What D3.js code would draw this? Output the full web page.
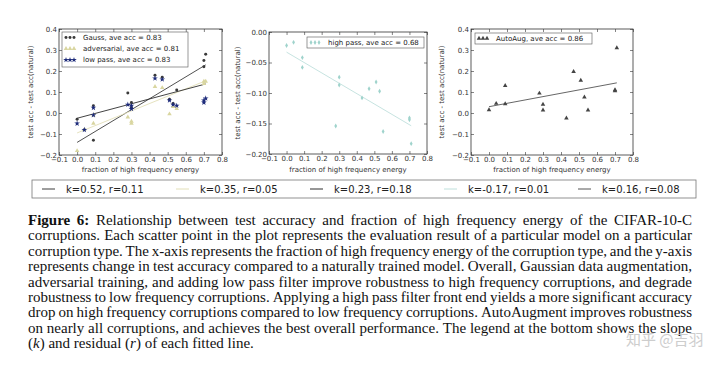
<!DOCTYPE html>
<html><head><meta charset="utf-8">
<script src="https://cdn.jsdelivr.net/npm/d3@7"></script>
<style>body{margin:0;background:#fff}svg{display:block}</style>
</head><body>
<script>
// ---------------- data ----------------
const xFrac  = [0.00,0.04,0.09,0.09,0.28,0.30,0.30,0.43,0.47,0.51,0.53,0.55,0.70,0.70,0.71];
const gaussY = [-0.03,-0.08,0.035,-0.13,0.095,0.05,0.025,0.18,0.17,0.065,0.045,0.11,0.25,0.22,0.28];
const advY   = [-0.18,-0.08,-0.01,-0.05,-0.02,-0.04,-0.05,0.125,0.12,-0.005,0.03,0.02,0.15,0.14,0.15];
const lowY   = [-0.05,-0.08,0.025,-0.01,0.04,0.035,0.02,0.165,0.16,0.06,0.04,0.035,0.06,0.05,0.07];
const highY  = [-0.022,-0.017,-0.042,-0.058,-0.154,-0.087,-0.074,-0.108,-0.093,-0.082,-0.097,-0.163,-0.141,-0.144,-0.183];
const autoY  = [0.015,0.045,0.13,0.043,0.094,0.041,0.014,-0.025,0.197,0.155,0.075,0.014,0.11,0.105,0.31];
const seriesNames = ["Gauss","adversarial","low pass","high pass","AutoAug"];
const aveAcc = ["0.83","0.81","0.83","0.68","0.86"];
const fitK = [0.52,0.35,0.23,-0.17,0.16];
const fitB = [-0.14,-0.095,-0.025,-0.033,0.03];
const fitR = [0.11,0.05,0.18,0.01,0.08];
const xTicks  = [-0.1,0,0.1,0.2,0.3,0.4,0.5,0.6,0.7,0.8];
const yTicksA = [-0.2,-0.1,0,0.1,0.2,0.3,0.4];
const yTicksB = [-0.2,-0.15,-0.1,-0.05,0];
const xLabel = "fraction of high frequency energy";
const yLabel = "test acc - test acc(natural)";
const captionLines = [
 "**Figure 6:** Relationship between test accuracy and fraction of high frequency energy of the CIFAR-10-C",
 "corruptions. Each scatter point in the plot represents the evaluation result of a particular model on a particular",
 "corruption type. The x-axis represents the fraction of high frequency energy of the corruption type, and the y-axis",
 "represents change in test accuracy compared to a naturally trained model. Overall, Gaussian data augmentation,",
 "adversarial training, and adding low pass filter improve robustness to high frequency corruptions, and degrade",
 "robustness to low frequency corruptions. Applying a high pass filter front end yields a more significant accuracy",
 "drop on high frequency corruptions compared to low frequency corruptions. AutoAugment improves robustness",
 "on nearly all corruptions, and achieves the best overall performance. The legend at the bottom shows the slope",
 "(_k_) and residual (_r_) of each fitted line."
];
const watermark = "知乎 @吉羽";

// ---------------- styles ----------------
const seriesStyle = [
  {color:"#3a3a3a", sym:d3.symbolCircle, size:7},
  {color:"#d9d6a0", sym:d3.symbolTriangle, size:9},
  {color:"#1c2a7a", sym:d3.symbolStar, size:10},
  {color:"#9fd3cc", sym:d3.symbolDiamond, size:7},
  {color:"#444444", sym:d3.symbolTriangle, size:9}
];
const lineColor = ["#3c3c3c","#e2dfb8","#2e2e2e","#bfe0dc","#555555"];
const seriesY = [gaussY, advY, lowY, highY, autoY];

const svg = d3.select("body").append("svg").attr("width",720).attr("height",367)
  .style("font-family","'DejaVu Sans', sans-serif");

const panels = [
  {L:59,R:222,T:29,B:155, ydom:[-0.2,0.4], yt:yTicksA, fmt:".1f", series:[0,1,2], ylx:33,
   leg:{x:62,y:32,w:126,h:35}},
  {L:269,R:427,T:32,B:154, ydom:[-0.2,0.0], yt:yTicksB, fmt:".2f", series:[3], ylx:240,
   leg:{x:307,y:37,w:117,h:11}},
  {L:471,R:633,T:29,B:155, ydom:[-0.2,0.4], yt:yTicksA, fmt:".1f", series:[4], ylx:444,
   leg:{x:475,y:33,w:117,h:11}}
];

panels.forEach(p => {
  const x = d3.scaleLinear().domain([-0.1,0.8]).range([p.L,p.R]);
  const y = d3.scaleLinear().domain(p.ydom).range([p.B,p.T]);
  const g = svg.append("g");
  const fx = d3.format(".1f"), fy = d3.format(p.fmt);
  const style = a => a.call(s=>s.select(".domain").remove())
     .call(s=>s.selectAll("line").attr("stroke","#333").attr("stroke-width",0.6))
     .call(s=>s.selectAll("text").attr("fill","#333").style("font-size","7px").style("font-family","'DejaVu Sans', sans-serif"));
  g.append("g").attr("transform",`translate(0,${p.B})`)
    .call(d3.axisBottom(x).tickValues(xTicks).tickFormat(fx).tickSizeInner(-3).tickSizeOuter(0).tickPadding(2)).call(style);
  g.append("g").attr("transform",`translate(0,${p.T})`)
    .call(d3.axisTop(x).tickValues(xTicks).tickFormat("").tickSizeInner(-3).tickSizeOuter(0)).call(style);
  g.append("g").attr("transform",`translate(${p.L},0)`)
    .call(d3.axisLeft(y).tickValues(p.yt).tickFormat(fy).tickSizeInner(-3).tickSizeOuter(0).tickPadding(2)).call(style);
  g.append("g").attr("transform",`translate(${p.R},0)`)
    .call(d3.axisRight(y).tickValues(p.yt).tickFormat("").tickSizeInner(-3).tickSizeOuter(0)).call(style);
  g.append("rect").attr("x",p.L).attr("y",p.T).attr("width",p.R-p.L).attr("height",p.B-p.T)
    .attr("fill","none").attr("stroke","#333").attr("stroke-width",0.8);

  p.series.forEach(si => {
    const x0 = d3.min(xFrac), x1 = d3.max(xFrac);
    g.append("line").attr("x1",x(x0)).attr("x2",x(x1))
      .attr("y1",y(fitB[si]+fitK[si]*x0)).attr("y2",y(fitB[si]+fitK[si]*x1))
      .attr("stroke",lineColor[si]).attr("stroke-width",0.9);
  });
  p.series.forEach(si => {
    const st = seriesStyle[si];
    g.selectAll(null).data(xFrac.map((v,i)=>[v,seriesY[si][i]])).join("path")
      .attr("transform",d=>`translate(${x(d[0])},${y(d[1])})`)
      .attr("d",d3.symbol(st.sym,st.size)).attr("fill",st.color);
  });
  const lg = p.leg;
  g.append("rect").attr("x",lg.x).attr("y",lg.y).attr("width",lg.w).attr("height",lg.h)
    .attr("fill","#fff").attr("stroke","#555").attr("stroke-width",0.6);
  p.series.forEach((si,k) => {
    const cy = lg.y + 5.5 + k*11.2;
    const st = seriesStyle[si];
    [4,8,12].forEach(dx => g.append("path").attr("transform",`translate(${lg.x+dx},${cy})`)
        .attr("d",d3.symbol(st.sym,st.size)).attr("fill",st.color));
    g.append("text").attr("x",lg.x+21).attr("y",cy+2.5).attr("fill","#222")
      .style("font-size","7px").text(`${seriesNames[si]}, ave acc = ${aveAcc[si]}`);
  });
  g.append("text").attr("x",(p.L+p.R)/2).attr("y",172).attr("text-anchor","middle")
    .attr("fill","#333").style("font-size","7px").text(xLabel);
  g.append("text").attr("transform",`translate(${p.ylx},${(p.T+p.B)/2}) rotate(-90)`)
    .attr("text-anchor","middle").attr("fill","#333").style("font-size","7px").text(yLabel);
});

// bottom legend
const bl = svg.append("g");
bl.append("rect").attr("x",32).attr("y",180).attr("width",664).attr("height",18)
  .attr("fill","#fff").attr("stroke","#777").attr("stroke-width",0.8);
const entryX = [42,176,310,444,578];
fitK.forEach((k,i) => {
  bl.append("line").attr("x1",entryX[i]).attr("x2",entryX[i]+13).attr("y1",189).attr("y2",189)
    .attr("stroke",lineColor[i]).attr("stroke-width",1);
  bl.append("text").attr("x",entryX[i]+24).attr("y",192.5).attr("fill","#222")
    .style("font-size","10px").style("font-family","'DejaVu Sans', sans-serif")
    .text(`k=${k.toFixed(2)}, r=${fitR[i].toFixed(2)}`);
});

// caption (justified)
const cap = svg.append("g").style("font-family","'Liberation Serif', 'Times New Roman', serif")
  .style("font-size","15px").attr("fill","#111");
const capL = 28, capW = 664, capY0 = 225, capStep = 15.4;
captionLines.forEach((line,li) => {
  const words = line.split(" ");
  const els = words.map(w => {
    const t = cap.append("text").attr("y",capY0+li*capStep);
    const parts = w.split(/(_[^_]+_)/).filter(s=>s.length);
    parts.forEach(pt => {
      if (pt.startsWith("_")) t.append("tspan").attr("font-style","italic").text(pt.replace(/_/g,""));
      else if (pt.includes("**")) t.append("tspan").attr("font-weight","bold").text(pt.replace(/\*\*/g,""));
      else t.append("tspan").text(pt);
    });
    return t;
  });
  const widths = els.map(e => e.node().getComputedTextLength());
  const total = d3.sum(widths);
  const last = li === captionLines.length-1;
  const gap = last ? 3.75 : (capW - total)/(els.length-1);
  let cx = capL;
  els.forEach((e,i) => { e.attr("x",cx); cx += widths[i] + gap; });
});

// watermark
svg.append("text").attr("x",626).attr("y",345).attr("fill","#c8c8c8").attr("opacity",0.9)
  .style("font-family","'Noto Sans CJK SC', sans-serif").style("font-size","15px").text(watermark);
</script>
</body></html>
